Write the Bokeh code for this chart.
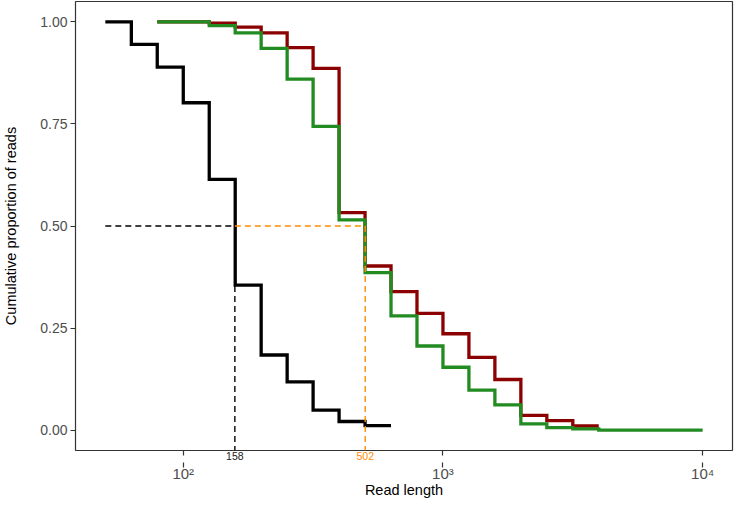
from bokeh.plotting import figure
from bokeh.models import Range1d, FixedTicker, CustomJSTickFormatter, LogAxis
from bokeh.embed import file_html
from bokeh.resources import INLINE

# read lengths (bin starts on a log scale) and cumulative proportion of reads
black_len = [50.1, 63.1, 79.4, 100.0, 125.9, 158.5, 199.5, 251.2, 316.2, 398.1, 501.2, 631.0]
black_prop = [1.000, 0.945, 0.889, 0.802, 0.614, 0.355, 0.184, 0.118, 0.049, 0.021, 0.011, 0.011]

red_len = [79.4, 100.0, 125.9, 158.5, 199.5, 251.2, 316.2, 398.1, 501.2, 631.0,
           794.3, 1000.0, 1258.9, 1584.9, 1995.3, 2511.9, 3162.3, 3981.1]
red_prop = [1.000, 1.000, 0.997, 0.987, 0.973, 0.937, 0.886, 0.533, 0.402, 0.339,
            0.286, 0.236, 0.178, 0.124, 0.036, 0.023, 0.010, 0.010]

green_len = [79.4, 100.0, 125.9, 158.5, 199.5, 251.2, 316.2, 398.1, 501.2, 631.0,
             794.3, 1000.0, 1258.9, 1584.9, 1995.3, 2511.9, 3162.3, 3981.1, 10000.0]
green_prop = [1.000, 1.000, 0.991, 0.973, 0.935, 0.860, 0.744, 0.515, 0.386, 0.280,
              0.206, 0.154, 0.098, 0.062, 0.015, 0.006, 0.003, 0.000, 0.000]

median_black = 158
median_other = 502
half = 0.5

x_ticks = [100, 1000, 10000]
y_ticks = [0.0, 0.25, 0.5, 0.75, 1.0]

y_start, y_end = -0.05, 1.05
x_start, x_end = 10 ** 1.585, 10 ** 4.115

FONT = "Liberation Sans"
ORANGE = "#FF8C00"
FRAME = "#333333"

p = figure(width=734, height=500, x_axis_type="log",
           x_range=Range1d(x_start, x_end), y_range=Range1d(y_start, y_end),
           output_backend="svg", toolbar_location=None,
           min_border_left=74, min_border_right=2, min_border_top=1, min_border_bottom=5)

p.xgrid.visible = False
p.ygrid.visible = False
p.outline_line_color = FRAME
p.outline_line_width = 1.2
p.background_fill_color = "white"
p.border_fill_color = "white"

# ---- y axis
ya = p.yaxis[0]
ya.axis_line_color = None
ya.major_tick_line_color = FRAME
ya.major_tick_line_width = 1.2
ya.major_tick_out = 5
ya.major_tick_in = 0
ya.minor_tick_line_color = None
ya.ticker = FixedTicker(ticks=y_ticks)
ya.major_label_overrides = {t: "%.2f" % t for t in y_ticks}
ya.major_label_standoff = 3
ya.major_label_text_font = FONT
ya.major_label_text_font_size = "14px"
ya.major_label_text_color = "#4d4d4d"
ya.axis_label = "Cumulative proportion of reads"
ya.axis_label_standoff = 18
ya.axis_label_text_font = FONT
ya.axis_label_text_font_size = "14.5px"
ya.axis_label_text_font_style = "normal"
ya.axis_label_text_color = "black"

# ---- x axes: row 1 = median labels (+ the 10^n tick marks), row 2 = 10^n labels and title
fmt_int = CustomJSTickFormatter(code="return tick.toFixed(0);")


def median_axis(val, col, standoff):
    return LogAxis(ticker=FixedTicker(ticks=[val], minor_ticks=x_ticks),
                   formatter=fmt_int,
                   axis_line_color=None, major_tick_line_color=None,
                   major_tick_out=0, major_tick_in=0,
                   minor_tick_line_color=FRAME, minor_tick_line_width=1.2,
                   minor_tick_out=5, minor_tick_in=0,
                   major_label_standoff=standoff,
                   major_label_text_font=FONT, major_label_text_font_size="10.5px",
                   major_label_text_color=col)


ax_black = median_axis(median_black, "#1a1a1a", -4)
ax_orange = median_axis(median_other, ORANGE, -16)

xa = p.xaxis[0]
xa.axis_line_color = None
xa.major_tick_line_color = None
xa.major_tick_out = 0
xa.major_tick_in = 0
xa.minor_tick_line_color = None
xa.ticker = FixedTicker(ticks=x_ticks)
xa.formatter = CustomJSTickFormatter(
    code="const s = {2:'\u00b2', 3:'\u00b3', 4:'\u2074'}; return '10' + s[Math.round(Math.log10(tick))];")
xa.major_label_standoff = 2
xa.major_label_text_font = FONT
xa.major_label_text_font_size = "15px"
xa.major_label_text_color = "#4d4d4d"
xa.axis_label = "Read length"
xa.axis_label_standoff = -3
xa.axis_label_text_font = FONT
xa.axis_label_text_font_size = "14.5px"
xa.axis_label_text_font_style = "normal"
xa.axis_label_text_color = "black"

p.below = [ax_black, ax_orange, xa]

# ---- step curves
p.step(black_len, black_prop, mode="after", line_color="black", line_width=3.3, line_join="miter")
p.step(red_len, red_prop, mode="after", line_color="#8B0000", line_width=3.3, line_join="miter")
p.step(green_len, green_prop, mode="after", line_color="#228B22", line_width=3.3, line_join="miter")

# ---- median guides
dash = "6 4"
p.line([black_len[0], median_black], [half, half], line_color="black", line_width=1.4, line_dash=dash)
p.line([median_black, median_black], [half, y_start], line_color="black", line_width=1.4, line_dash=dash)
p.line([median_black, median_other], [half, half], line_color=ORANGE, line_width=1.4, line_dash=dash)
p.line([median_other, median_other], [half, y_start], line_color=ORANGE, line_width=1.4, line_dash=dash)

open("out.html", "w").write(file_html(p, INLINE))
